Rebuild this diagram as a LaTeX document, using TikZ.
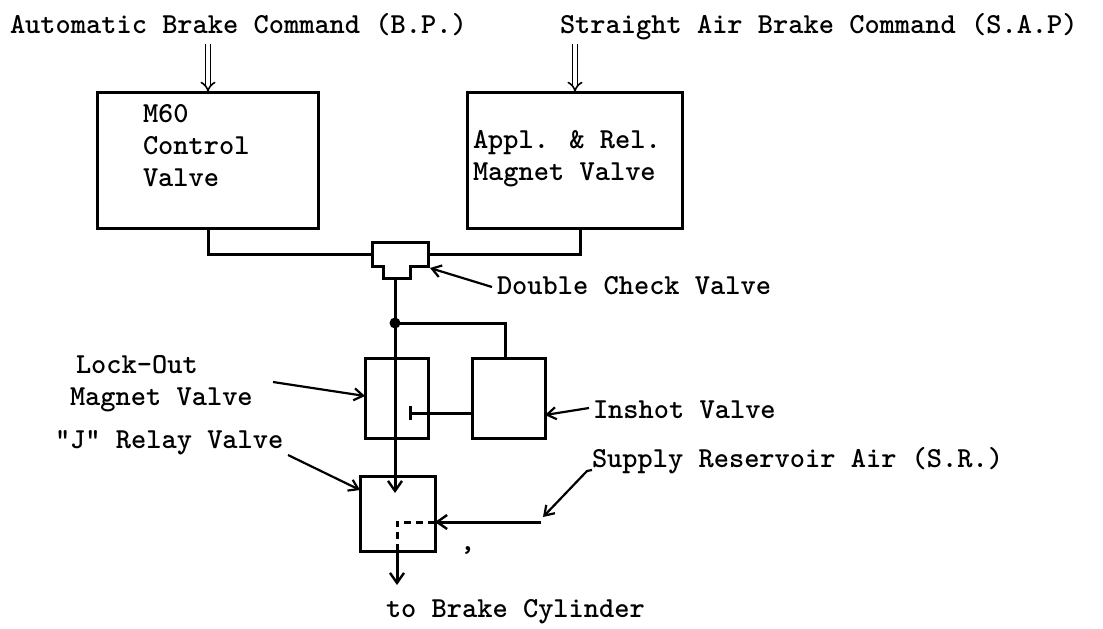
\documentclass[tikz,border=0pt]{standalone}
\usetikzlibrary{arrows.meta}
\begin{document}
\begin{tikzpicture}[x=1pt,y=-1pt,
  every node/.style={font=\ttfamily\bfseries\fontsize{29}{32}\selectfont, inner sep=0pt, outer sep=0pt},
  lbl/.style={anchor=base west},
  box/.style={draw, line width=3pt, minimum width=#1},
  pipe/.style={line width=3pt},
  lead/.style={line width=2.2pt, -{Straight Barb[length=9pt,width=12pt,line width=2.2pt]}},
  flow/.style={line width=3pt, -{Straight Barb[length=10pt,width=14pt,line width=2.4pt]}},
  dbl/.style={double, double distance=3.5pt, line width=1.6pt, -{Implies[length=9pt]}},
  dsh/.style={line width=3pt, dash pattern=on 7pt off 5pt}
]
\useasboundingbox (0,0) rectangle (1103,629);

% titles
\node[lbl] (t1) at (10,33) {Automatic Brake Command (B.P.)};
\node[lbl] (t2) at (560,33) {Straight Air Brake Command (S.A.P)};

% boxes
\node[box=221pt, minimum height=136pt] (m60) at (207.5,160) {};
\node[box=215pt, minimum height=136pt] (mag) at (574.5,160) {};
\node[lbl] (m60a) at (143,122) {M60};
\node[lbl] (m60b) at (143,154) {Control};
\node[lbl] (m60c) at (143,186) {Valve};
\node[lbl] (maga) at (473,148) {Appl. \& Rel.};
\node[lbl] (magb) at (473,180) {Magnet Valve};

% command arrows
\coordinate (c1) at (208,44);
\coordinate (c2) at (575,44);
\draw[dbl] (c1) -- (c1 |- m60.north);
\draw[dbl] (c2) -- (c2 |- mag.north);

% double check valve
\node[minimum width=56pt, minimum height=24pt] (dcv) at (400,254) {};
\draw[pipe, line join=miter] (383,266) -- (383,278) -- (410,278) -- (410,266) -- (dcv.south east)
  -- (dcv.north east) -- (dcv.north west) -- (dcv.south west) -- cycle;

% connection to double check valve
\draw[pipe] (208,228) |- (dcv.west);
\draw[pipe] (580,228) |- (dcv.east);

\coordinate (dcvout) at (395,278);
\coordinate (jn) at (395,323);
\draw[pipe] (dcvout) -- (jn);
\fill (jn) circle (5.5pt);

% lockout and inshot
\node[box=63pt, minimum height=80pt] (lock) at (396.5,398) {};
\node[box=73pt, minimum height=80pt] (insh) at (508.5,398) {};
\draw[pipe] (jn) -| (505,358);
\coordinate (tend) at (410,413);
\draw[pipe] (insh.west |- tend) -- (tend);
\draw[pipe] (410,406) -- (410,420);

% J relay valve
\node[box=75pt, minimum height=75pt] (jrv) at (397.5,513.5) {};
\coordinate (jin) at (395,493);
\draw[flow] (jn) -- (jin);
\coordinate (dk) at (397,522);
\coordinate (db) at (397,551);
\draw[dsh] (jrv.east |- dk) -- (dk) -- (db);
\coordinate (out) at (397,585);
\draw[flow] (db) -- (out);
\coordinate (sr) at (541,522);
\draw[flow] (sr) -- (jrv.east |- sr);

% labels
\node[lbl] (dcvl) at (497,294) {Double Check Valve};
\draw[lead] (492,287) -- (430,268);
\node[lbl] (lk1) at (76,373) {Lock-Out};
\node[lbl] (lk2) at (70,405) {Magnet Valve};
\draw[lead] (273,382) -- (lock.west |- 0,396);
\node[lbl] (insl) at (593,418) {Inshot Valve};
\draw[lead] (589,408) -- (insh.east |- 0,415);
\node[lbl] (jl) at (55,448) {"J" Relay Valve};
\draw[lead] (288,455) -- (jrv.west |- 0,490);
\node[lbl] (srl) at (592,467) {Supply Reservoir Air (S.R.)};
\draw[lead] (592,470) -- (587,471) -- (543,517);
\node[lbl] (cm) at (460,550) {,};
\node[lbl] (bcl) at (386,617) {to Brake Cylinder};
\end{tikzpicture}
\end{document}
